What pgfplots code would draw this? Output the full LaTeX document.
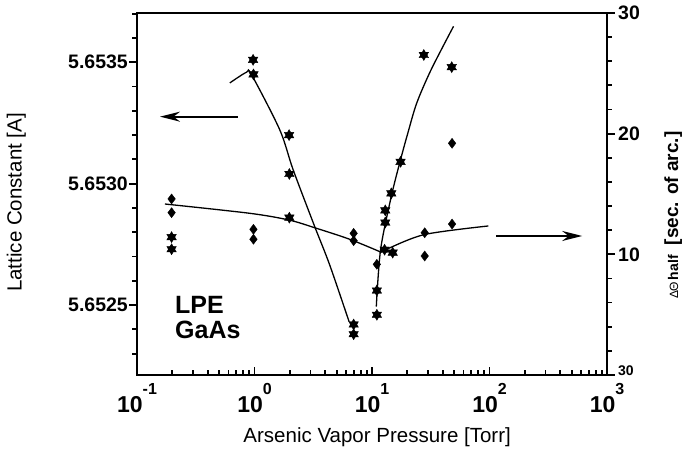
\documentclass[border=0pt]{standalone}
\usepackage{fontspec}
\setmainfont{Liberation Sans}
\usepackage{pgfplots}
\pgfplotsset{compat=1.18}
\usetikzlibrary{arrows.meta}

\pgfdeclareplotmark{hexstar}{%
  \pgfpathmoveto{\pgfpointpolar{90}{\pgfplotmarksize}}%
  \pgfpathlineto{\pgfpointpolar{210}{\pgfplotmarksize}}%
  \pgfpathlineto{\pgfpointpolar{330}{\pgfplotmarksize}}%
  \pgfpathclose
  \pgfpathmoveto{\pgfpointpolar{270}{\pgfplotmarksize}}%
  \pgfpathlineto{\pgfpointpolar{30}{\pgfplotmarksize}}%
  \pgfpathlineto{\pgfpointpolar{150}{\pgfplotmarksize}}%
  \pgfpathclose
  \pgfusepathqfillstroke}

\newcommand{\tl}[1]{\bfseries\fontsize{23}{23}\selectfont 10\raisebox{18pt}{\fontsize{16}{16}\selectfont #1}}

\pgfplotstableread{
x y
0.197 5.65278
0.197 5.65273
0.973 5.65351
0.98 5.65345
1.97 5.65320
1.98 5.65304
1.98 5.65286
6.98 5.65242
6.98 5.65238
11.0 5.65246
11.0 5.65256
12.97 5.65284
12.97 5.65289
14.6 5.65296
17.5 5.65309
27.6 5.65353
47.7 5.65348
12.8 5.652728
15.0 5.652716
}\stars

\pgfplotstableread{
x y
0.197 14.59
0.197 13.45
0.98 12.07
0.98 11.25
6.98 11.74
6.98 11.13
11.0 9.17
28.1 11.79
28.1 9.86
48.0 12.51
48.0 19.2
}\diamonds

\begin{document}
\begin{tikzpicture}
\useasboundingbox (0,0) rectangle (688pt,454pt);
\begin{axis}[
  at={(137pt,79pt)}, anchor=south west, scale only axis,
  width=470pt, height=362pt,
  xmode=log, xmin=0.1, xmax=1000,
  ymin=5.652212, ymax=5.653703,
  axis line style={line width=2.4pt},
  xtick={0.1,1,10,100,1000},
  xticklabels={\tl{-1},\tl{0},\tl{1},\tl{2},\tl{3}},
  minor xtick={0.2,0.3,0.4,0.5,0.6,0.7,0.8,0.9,2,3,4,5,6,7,8,9,20,30,40,50,60,70,80,90,200,300,400,500,600,700,800,900},
  xtick pos=bottom, ytick pos=left,
  xtick align=inside, ytick align=outside,
  ytick={5.6525,5.6530,5.6535},
  yticklabels={5.6525,5.6530,5.6535},
  minor ytick={5.6523,5.6524,5.6526,5.6527,5.6528,5.6529,5.6531,5.6532,5.6533,5.6534,5.6536,5.6537},
  major tick length=8pt, minor tick length=5pt,
  every tick/.style={line width=1.8pt, black},
  yticklabel style={font=\bfseries\fontsize{19.5}{19.5}\selectfont, inner sep=0pt, xshift=-1pt},
  xticklabel style={inner sep=0pt, anchor=north, yshift=-8pt},
  xlabel={Arsenic Vapor Pressure [Torr]},
  ylabel={Lattice Constant [A]},
  label style={font=\fontsize{20.5}{20.5}\selectfont},
  xlabel style={at={(axis description cs:0.511,-0.171)}, anchor=center},
  ylabel style={at={(axis description cs:-0.257,0.4765)}, anchor=center},
  clip=false,
]
\addplot[only marks, mark=hexstar, mark size=5.5pt, black] table {\stars};
\addplot[smooth, line width=1.3pt, black, no marks] coordinates {
(0.617,5.653415) (0.855,5.653459) (0.943,5.653449) (1.64,5.653222)
(2.13,5.653058) (3.25,5.652824) (4.36,5.652666) (6.39,5.652431)};
\addplot[smooth, line width=1.3pt, black, no marks] coordinates {
(10.88,5.652494) (11.83,5.652728) (14.6,5.652948) (17.5,5.653099)
(20.2,5.653209) (24.07,5.653333) (31.9,5.653470) (49.4,5.653648)};
\draw[line width=2pt, -{Stealth[length=20pt,width=10pt]}] (axis cs:0.721,5.653276) -- (axis cs:0.157,5.653276);
\end{axis}
\begin{axis}[
  at={(137pt,79pt)}, anchor=south west, scale only axis,
  width=470pt, height=362pt,
  xmode=log, xmin=0.1, xmax=1000,
  ymin=0, ymax=30,
  axis line style={line width=2.4pt},
  xtick=\empty, ytick pos=right, yticklabel pos=right,
  ytick align=outside,
  ytick={0,10,20,30},
  yticklabels={\raisebox{8pt}{\fontsize{14}{14}\selectfont 30},10,20,30},
  minor ytick={2,4,6,8,12,14,16,18,22,24,26,28},
  major tick length=8pt, minor tick length=5pt,
  every tick/.style={line width=1.8pt, black},
  yticklabel style={font=\bfseries\fontsize{19.5}{19.5}\selectfont, inner sep=0pt, xshift=3pt},
  clip=false,
]
\addplot[only marks, mark=diamond*, mark size=5pt, black] table {\diamonds};
\addplot[smooth, line width=1.3pt, black, no marks] coordinates {
(0.173,14.17) (0.912,13.40) (1.97,12.84) (3.36,12.16) (6.45,11.25) (12.0,10.17)};
\addplot[smooth, line width=1.3pt, black, no marks] coordinates {
(12.0,10.17) (12.9,10.36) (28.0,11.64) (97.9,12.35)};
\draw[line width=2pt, -{Stealth[length=20pt,width=10pt]}] (axis cs:114.5,11.52) -- (axis cs:615,11.52);
\end{axis}
\node[anchor=north west, align=left, inner sep=0pt, font=\bfseries\fontsize{25}{25}\selectfont] at (175pt,158pt) {LPE\\GaAs};
\node[rotate=90, anchor=base west, inner sep=0pt] at (678pt,155pt)
  {{\fontsize{12}{12}\selectfont ΔΘ}\,{\bfseries\fontsize{14}{14}\selectfont half}\hspace{10pt}{\bfseries\fontsize{19}{19}\selectfont [sec. of arc.]}};
\end{tikzpicture}
\end{document}
